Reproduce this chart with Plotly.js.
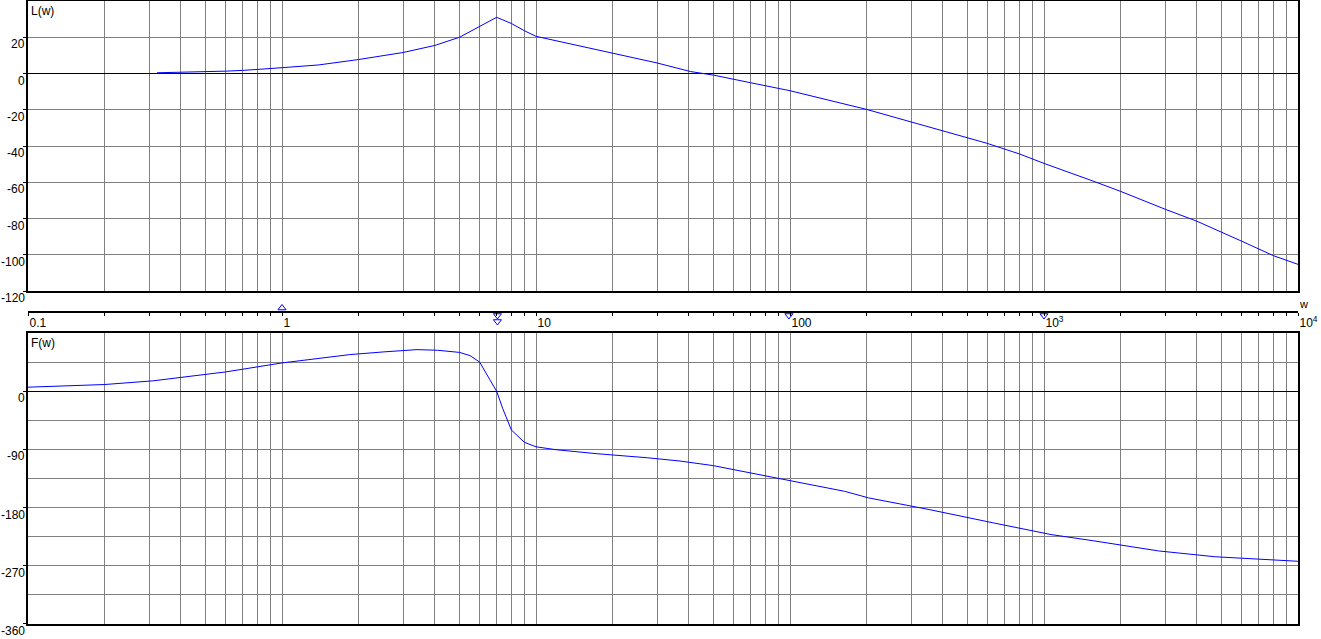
<!DOCTYPE html>
<html>
<head>
<meta charset="utf-8">
<script src="https://cdn.plot.ly/plotly-3.0.1.min.js"></script>
<style>html,body{margin:0;padding:0;background:#fff;}#chart{width:1321px;height:639px;}</style>
</head>
<body>
<div id="chart"></div>
<script>
// Magnitude L(w), dB
const wMag = [0.322, 0.4, 0.5, 0.6, 0.7, 0.8, 1.0, 1.39, 2.0, 3.0, 4.0, 5.0, 6.0, 7.0, 8.0, 9.0, 10, 13.4, 20, 30, 40.5, 50, 70, 100, 200, 300, 400, 596, 805, 1000, 1571, 2000, 3000, 4000, 6000, 8000, 10000];
const magDb = [0.4, 0.6, 0.9, 1.3, 1.7, 2.2, 3.2, 4.7, 7.7, 11.6, 15.5, 20.0, 26.0, 31.0, 27.6, 23.6, 20.5, 16.6, 11.4, 5.8, 1.1, -0.9, -5.1, -9.5, -19.8, -26.6, -31.7, -38.5, -44.5, -49.6, -59.5, -65.0, -74.9, -81.5, -92.5, -100.5, -105.3];

// Phase F(w), degrees
const wPhase = [0.1, 0.2, 0.31, 0.4, 0.6, 1.0, 1.85, 2.5, 3.4, 4.1, 5.0, 5.5, 6.0, 6.6, 7.0, 7.4, 7.7, 8.0, 9.0, 10, 12, 17.4, 27.4, 36.9, 49.7, 78.8, 91, 164, 204, 353, 633, 1066, 1570, 2824, 4707, 10000];
const phaseDeg = [6.2, 10.3, 16, 21.6, 29.8, 43.7, 56.6, 60.7, 64.3, 63.3, 60.0, 55, 45, 17, 0, -27, -44, -60, -79, -86, -90.5, -96.7, -102.9, -108, -115, -130, -135, -154.8, -165, -183, -203.7, -221.7, -231.4, -247, -256, -263];

// Markers on the frequency axis (level in pixels-from-top units of the strip axis)
const markW = [1, 7.05, 7.05, 99, 1000];
const markLevel = [-308, -315.5, -321.5, -315.5, -315.5];
const markSymbol = ['triangle-up-open', 'triangle-down-open', 'triangle-down-open', 'triangle-down-open', 'triangle-down-open'];

// Tick labels
const freqTicks = [0.1, 1, 10, 100, 1000, 10000];
const freqTickText = ['0.1', '1', '10', '100', '10<sup>3</sup>', '10<sup>4</sup>'];
const magTicks = [-120, -100, -80, -60, -40, -20, 0, 20];
const magTickText = ['-120', '-100', '-80', '-60', '-40', '-20', '0', '20'];
const phaseTicks = [-360, -270, -180, -90, 0];
const phaseTickText = ['-360', '-270', '-180', '-90', '0'];
const phaseMinor = [-315, -225, -135, -45, 45];

const gridW = [];
const minorW = [];
for (let d = -1; d <= 3; d++) {
  for (let k = 1; k <= 9; k++) {
    const v = Number((k * Math.pow(10, d)).toPrecision(6));
    gridW.push(v);
    if (k > 1) minorW.push(v);
  }
}
gridW.push(10000);

const FONT = 'Liberation Sans, Arial, sans-serif';
const GRID = '#808080';
const tickFont = {family: FONT, size: 12, color: '#000'};

const traces = [
  {x: wMag, y: magDb, xaxis: 'x', yaxis: 'y', mode: 'lines', line: {color: '#0000ff', width: 1}, hoverinfo: 'skip'},
  {x: wPhase, y: phaseDeg, xaxis: 'x2', yaxis: 'y2', mode: 'lines', line: {color: '#0000ff', width: 1}, hoverinfo: 'skip'},
  {x: markW, y: markLevel, xaxis: 'x3', yaxis: 'y3', mode: 'markers', cliponaxis: false,
   marker: {symbol: markSymbol, size: 7, color: '#0000ff', line: {color: '#0000ff', width: 1}}, hoverinfo: 'skip'}
];

const xBase = {
  type: 'log', range: [-1, 4], tickvals: gridW, showticklabels: false, ticks: '',
  showgrid: true, gridcolor: GRID, gridwidth: 1, zeroline: false,
  showline: true, mirror: true, linecolor: '#000', linewidth: 2
};

function yLabels(vals, texts, yref) {
  return vals.map((v, i) => ({
    text: texts[i], xref: 'paper', yref: yref, x: 0, y: v,
    xanchor: 'right', yanchor: 'top', xshift: -2, yshift: 1,
    showarrow: false, borderpad: 0, font: tickFont
  }));
}

const layout = {
  width: 1321, height: 639,
  margin: {l: 28, r: 23, t: 1, b: 15, pad: 0},
  paper_bgcolor: '#fff', plot_bgcolor: '#fff',
  showlegend: false,
  font: {family: FONT, size: 12, color: '#000'},
  xaxis: Object.assign({}, xBase, {anchor: 'y', domain: [0, 1]}),
  xaxis2: Object.assign({}, xBase, {anchor: 'y2', domain: [0, 1]}),
  yaxis: {
    domain: [0.5345, 1], range: [-120, 40], anchor: 'x',
    tickvals: magTicks, showticklabels: false, ticks: 'outside', ticklen: 3, tickcolor: '#000', tickwidth: 1,
    showgrid: true, gridcolor: GRID, gridwidth: 1,
    zeroline: true, zerolinecolor: '#000', zerolinewidth: 1,
    showline: true, mirror: true, linecolor: '#000', linewidth: 2
  },
  yaxis2: {
    domain: [0, 0.4671], range: [-360, 90], anchor: 'x2',
    tickvals: phaseTicks, showticklabels: false, ticks: 'outside', ticklen: 3, tickcolor: '#000', tickwidth: 1,
    showgrid: true, gridcolor: GRID, gridwidth: 1,
    minor: {tickvals: phaseMinor, showgrid: true, gridcolor: GRID, gridwidth: 1, ticks: ''},
    zeroline: true, zerolinecolor: '#000', zerolinewidth: 1,
    showline: true, mirror: true, linecolor: '#000', linewidth: 2
  },
  xaxis3: {
    type: 'log', range: [-1, 4], anchor: 'free', position: 0.5008, domain: [0, 1],
    tickvals: freqTicks, ticktext: freqTickText, ticklabelposition: 'outside right',
    ticks: 'outside', ticklen: 3, tickcolor: '#000', tickwidth: 1, tickfont: tickFont,
    minor: {tickvals: minorW, ticks: 'outside', ticklen: 3, tickcolor: '#000', tickwidth: 1, showgrid: false},
    showgrid: false, zeroline: false,
    showline: true, linecolor: '#000', linewidth: 2
  },
  yaxis3: {domain: [0.4671, 0.5345], range: [-333, -291], anchor: 'free', position: 0, visible: false, fixedrange: true, showgrid: false, zeroline: false},
  annotations: [
    {text: 'L(w)', xref: 'paper', yref: 'paper', x: 0, y: 1, xanchor: 'left', yanchor: 'top', xshift: 1, yshift: -1, showarrow: false, font: {family: FONT, size: 12, color: '#000'}},
    {text: 'F(w)', xref: 'paper', yref: 'paper', x: 0, y: 0.4671, xanchor: 'left', yanchor: 'top', xshift: 1, yshift: -1, showarrow: false, font: {family: FONT, size: 12, color: '#000'}},
    {text: 'w', xref: 'paper', yref: 'paper', x: 1, y: 0.514, xanchor: 'left', yanchor: 'middle', xshift: -1, showarrow: false, font: {family: FONT, size: 11, color: '#000'}}
  ].concat(yLabels(magTicks, magTickText, 'y'), yLabels(phaseTicks, phaseTickText, 'y2'))
};

Plotly.newPlot('chart', traces, layout, {staticPlot: true, displayModeBar: false});
</script>
</body>
</html>
